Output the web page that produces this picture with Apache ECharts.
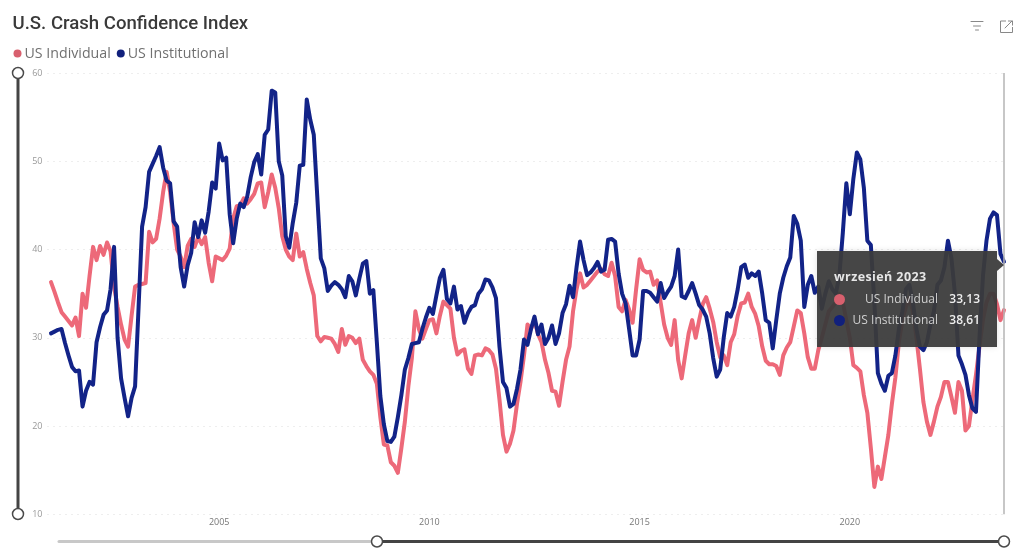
<!DOCTYPE html>
<html><head><meta charset="utf-8">
<style>html,body{margin:0;padding:0;background:#fff}#c{width:1024px;height:554px}</style>
<script src="https://cdn.jsdelivr.net/npm/echarts@6/dist/echarts.min.js"></script>
</head><body><div id="c"></div>
<script>
const titleText = 'U.S. Crash Confidence Index';
const seriesNames = ['US Individual', 'US Institutional'];
const seriesColors = ['#D8606E', '#11207C'];
const xTickMonths = ['2005-01', '2010-01', '2015-01', '2020-01'];
const tooltipTitle = 'wrzesień 2023';
const firstYear = 2001;
const usIndividual = [
36.3,35.2,34,32.9,32.4,31.9,31.4,32.3,30.2,35,33.4,37,
40.3,38.8,40.4,39.4,40.8,39.8,35.8,33.5,31.5,29.8,29,32.5,
35.8,36,36.1,36.2,42,40.8,41.2,43.5,46.5,48.8,46.5,43,
40,39.2,38,40.4,41.2,40.3,41.4,40.6,41.4,38.5,36.4,39.2,
39,38.8,39.3,40.1,43.5,44.9,45,45.8,45.2,45.7,46.3,47.5,
47.6,44.8,46.5,48.5,47,44.7,41.5,40,39.2,38.8,41.8,39.2,
39.7,37.8,36.2,34.8,30.2,29.6,30.1,30,29.9,29.3,28.4,31,
29.2,30.2,30,29.4,29.9,27.5,26.8,26.2,25.8,24.8,21,17.9,
17.8,15.9,15.5,14.7,17.5,20.5,24.5,27.7,33,31,29.9,31,
32,32.1,30.5,32.5,34.1,33.7,33.3,30,28.1,28.5,28.7,26.5,
25.9,28,28.1,28,28.8,28.6,28.1,26.5,23,19,17.1,18,
19.5,22.5,25,28,31.5,31,32,30.4,29.5,27.5,26,24,
23.9,22.3,25,27.5,29,33,35.5,37.3,35.7,36,36.5,37,
37.5,37.8,37.2,37,38.5,37,33.5,33,34.3,33.2,31.7,35.5,
38.9,37.7,37.4,37.5,36,36.5,34,31.5,30,29.2,32,27.5,
25.4,28,30.5,32,30,32,33.8,34.6,33.3,31.8,29.5,27.8,
28,26.9,29.5,30.4,32.5,33.9,34,35,33.5,32.7,31.3,29,
27.4,27,27,26.8,25.8,28,28.9,29.5,31.3,33.1,32.8,30.5,
27.8,26.5,26.5,28.6,30,31.5,33,33.5,34,35,34,32,
30,26.9,26.6,26.2,23.5,21.5,17.5,13.1,15.4,14,16.5,19,
22.5,25.5,29.5,32,33.5,34.5,33,30,26.5,22.7,20.5,19,
20.5,22.2,23.3,25,25,23.3,21.5,25,24,19.5,20,23,
25.8,29,32,34,35,35,33.8,32,33.13
];
const usInstitutional = [
30.5,30.7,30.9,31,29.4,28,26.7,26.2,26.3,22.2,24,25,
24.7,29.5,31.2,32.6,33.1,35.5,40.3,30,25.4,23.2,21.1,23.2,
24.5,33.5,42.6,44.8,48.8,49.7,50.6,51.6,49.3,47.8,47.5,43.2,
42.6,38,35.8,38.2,39.6,43.1,41.4,43.3,41.9,44.3,47.6,46.9,
52,50.1,50.4,44,40.7,43.5,45.2,44.8,46,48.2,49.9,50.8,
48.5,53,53.6,58,57.8,50,48.4,41.5,40.2,43,45.3,49.5,
49.6,57,54.7,53,46,39,37.9,35.3,35.9,36.3,36,35.5,
34.6,37,36.4,34.8,36.7,38.4,38.7,35,35.4,29.5,23.4,20.2,
18.3,18.2,18.8,21,23.5,26.4,27.7,29.3,29.4,29.5,31,32.3,
33.4,32.7,34.8,36.8,37.7,34.4,33.9,35.8,33.2,33.6,31.7,32.8,
33.5,33.7,35,35.5,36.6,36.5,35.7,34.5,29,25,24.3,22.2,
22.5,24.2,26.4,29.8,29.2,31,32.4,30.4,31.5,29.3,30,31.4,
29.3,30.5,32.8,33.8,35.9,34.6,38,40.9,38.8,37.1,37.4,37.9,
38.6,37.5,37.7,41.1,41.2,40.9,37.3,35,33.9,31,28,28,
29.8,35.3,35.3,35.1,34.6,34.1,36.2,34.5,35.2,35.8,37,40,
34.7,34.5,35.3,36.2,35,33.7,33.2,32.4,30.5,27.7,25.6,26.4,
30,32.8,32.4,33.5,35.5,38,38.3,36.8,37.3,37,37.5,35,
32,31.7,28.8,32,35,36.8,38.1,39.1,43.8,42.9,41,33.5,
36,37,35.1,35.8,33.3,35,36.4,35.5,35,37,41.9,47.5,
44,48,51,50.2,47,41,40.5,34,26,24.8,24,25.7,
26,28,31,33,35.5,36,34,31,29,28.6,29.5,31.5,
33,36,36.5,38,41,39,35,28,27,25.8,23.5,22,
21.6,30,37,41,43.5,44.2,43.9,39.5,38.61
];
const months = [];
for (let y = firstYear - 1; y <= 2023; y++) for (let m = 1; m <= 12; m++) {
  const key = y + '-' + String(m).padStart(2, '0');
  if (key >= '2000-12' && key <= '2023-10') months.push(key);
}
const seriesMonths = months.slice(1, -1);
const pair = arr => arr.map((v, i) => [seriesMonths[i], v]);
const chart = echarts.init(document.getElementById('c'), null, {renderer: 'canvas'});
const ln = (x1, y1, x2, y2, stroke, lineWidth) => ({type: 'line', z: 200, silent: true,
  shape: {x1, y1, x2, y2}, style: {stroke, lineWidth, lineCap: 'round'}});
const handle = (cx, cy) => ({type: 'circle', z: 201, silent: true,
  shape: {cx, cy, r: 5.5}, style: {fill: '#fff', stroke: '#4a4a4a', lineWidth: 1.5}});
const pct = (v) => String(v).replace('.', ',');
chart.setOption({
  animation: false,
  backgroundColor: '#fff',
  title: {text: titleText, left: 12.5, top: 15, textStyle: {fontFamily: 'Roboto', fontSize: 18.6, fontWeight: 500, color: '#3a3a3a'}, padding: 0},
  legend: {left: 13.5, top: 46.5, padding: 0, itemWidth: 8, itemHeight: 8, itemGap: 6, icon: 'circle',
    textStyle: {fontFamily: 'Open Sans', fontSize: 14.2, color: '#707070', padding: [0, 0, 0, -2]}, data: seriesNames, selectedMode: false},
  grid: {left: 47.5, right: 16.5, top: 73, bottom: 39.7, containLabel: false},
  xAxis: {type: 'category', data: months, boundaryGap: false,
    axisLine: {show: false}, axisTick: {show: false}, splitLine: {show: false},
    axisLabel: {interval: (i, v) => xTickMonths.includes(v), formatter: v => v.slice(0, 4), margin: 4,
      fontFamily: 'Open Sans', fontSize: 9, color: '#777'}},
  yAxis: {type: 'value', min: 10, max: 60, interval: 10,
    axisLine: {show: false}, axisTick: {show: false},
    axisLabel: {margin: 5, fontFamily: 'Open Sans', fontSize: 9, color: '#999'},
    splitLine: {show: true, lineStyle: {type: [1, 5], color: '#dcdcdc', width: 1}}},
  tooltip: {trigger: 'axis', alwaysShowContent: true, showDelay: 0, hideDelay: 0, transitionDuration: 0,
    padding: 0, borderWidth: 0, backgroundColor: 'transparent',
    extraCssText: 'box-shadow:none;overflow:visible;',
    axisPointer: {type: 'line', animation: false, lineStyle: {color: '#b4b4b4', width: 1.5, type: 'solid'}},
    position: () => [817, 251],
    formatter: ps => {
      const row = (p, top) => `<div style="position:absolute;left:17px;top:${top}px;width:146px;height:18px;line-height:18px;font-family:'Open Sans';font-size:12px">
        <span style="position:absolute;left:0;top:3.5px;width:11px;height:11px;border-radius:50%;background:${p.color}"></span>
        <span style="position:absolute;right:42px;color:#cfcfcf;white-space:nowrap">${p.seriesName}</span>
        <span style="position:absolute;right:0;color:#eee;font-weight:600">${pct(p.value[1])}</span></div>`;
      return `<div style="position:relative;width:180px;height:96px;background:rgba(58,58,58,.94);box-shadow:0 0 6px rgba(0,0,0,.12)">
        <div style="position:absolute;left:17px;top:16px;line-height:20px;font-family:'Open Sans';font-size:12.5px;font-weight:700;color:#e6e6e6;letter-spacing:.4px;white-space:nowrap">${tooltipTitle}</div>
        ${row(ps[0], 39)}${row(ps[1], 60)}
        <div style="position:absolute;left:180px;top:8px;width:0;height:0;border-top:6px solid transparent;border-bottom:6px solid transparent;border-left:7px solid rgba(58,58,58,.94)"></div>
      </div>`;
    }},
  series: [
    {name: seriesNames[0], type: 'line', data: pair(usIndividual), symbol: 'none', itemStyle: {color: seriesColors[0]},
      lineStyle: {width: 4, color: seriesColors[0], cap: 'round', join: 'round'}, z: 2},
    {name: seriesNames[1], type: 'line', data: pair(usInstitutional), symbol: 'none', itemStyle: {color: seriesColors[1]},
      lineStyle: {width: 4, color: seriesColors[1], cap: 'round', join: 'round'}, z: 3}
  ],
  graphic: {elements: [
    ln(18, 73, 18, 514, '#444', 3),
    handle(18, 73), handle(18, 514),
    ln(59, 541.5, 377, 541.5, '#c8c8c8', 3),
    ln(377, 541.5, 1004, 541.5, '#444', 3),
    handle(377, 541.5), handle(1004, 541.5),
    ln(971, 21.5, 983, 21.5, '#888', 1),
    ln(973.5, 26, 980.5, 26, '#888', 1),
    ln(975.5, 30, 978.5, 30, '#888', 1),
    {type: 'polyline', z: 200, silent: true, shape: {points: [[1006, 21], [1000.5, 21], [1000.5, 32.5], [1012.5, 32.5], [1012.5, 27]]}, style: {fill: 'none', stroke: '#888', lineWidth: 1}},
    ln(1005, 28, 1012, 21, '#888', 1),
    {type: 'polyline', z: 200, silent: true, shape: {points: [[1008, 21], [1012.5, 21], [1012.5, 25.5]]}, style: {fill: 'none', stroke: '#888', lineWidth: 1}}
  ]}
});
chart.dispatchAction({type: 'showTip', seriesIndex: 0, dataIndex: usIndividual.length - 1});
</script></body></html>
